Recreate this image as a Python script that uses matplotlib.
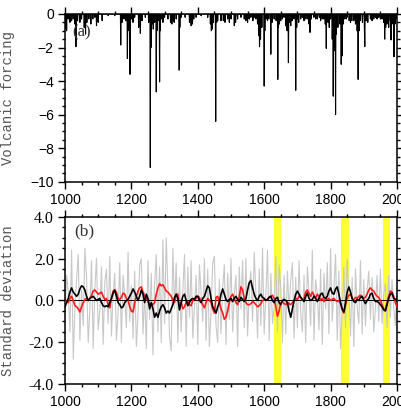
import numpy as np
import matplotlib
matplotlib.use('Agg')
import matplotlib.pyplot as plt
from matplotlib.ticker import MultipleLocator, FormatStrFormatter

# ---- (a) volcanic forcing: eruption years and peak forcing (W/m2)
erupt_year = [1003, 1005, 1010, 1015, 1020, 1025, 1030, 1033, 1038, 1045, 1050, 1058, 1062, 1066,
              1072, 1078, 1084, 1090, 1095, 1100, 1112, 1130, 1150, 1168, 1172, 1178, 1183, 1188,
              1190, 1196, 1200, 1205, 1210, 1222, 1227, 1232, 1242, 1252, 1257, 1259, 1262, 1266,
              1270, 1275, 1277, 1280, 1285, 1287, 1290, 1295, 1300, 1310, 1318, 1322, 1326, 1329,
              1335, 1344, 1346, 1350, 1362, 1375, 1380, 1384, 1388, 1395, 1410, 1430, 1438, 1441,
              1444, 1447, 1454, 1457, 1460, 1470, 1477, 1482, 1490, 1495, 1500, 1510, 1514, 1520,
              1530, 1540, 1545, 1550, 1555, 1560, 1566, 1570, 1575, 1580, 1584, 1586, 1589, 1593,
              1600, 1602, 1606, 1610, 1614, 1620, 1624, 1630, 1636, 1641, 1643, 1646, 1650, 1655,
              1660, 1665, 1669, 1673, 1676, 1680, 1684, 1690, 1695, 1698, 1700, 1704, 1710, 1715,
              1720, 1725, 1730, 1735, 1738, 1742, 1750, 1755, 1760, 1766, 1770, 1775, 1780, 1784,
              1787, 1792, 1796, 1800, 1805, 1808, 1810, 1813, 1815, 1817, 1822, 1828, 1832, 1835,
              1838, 1842, 1847, 1850, 1856, 1860, 1864, 1870, 1875, 1880, 1883, 1886, 1890, 1896,
              1902, 1903, 1907, 1912, 1920, 1925, 1930, 1935, 1940, 1945, 1950, 1955, 1960, 1963,
              1966, 1970, 1975, 1980, 1982, 1985, 1988, 1991, 1994, 1998]
erupt_val = [-0.9, -1.0, -0.3, -0.5, -0.4, -0.3, -0.6, -1.95, -0.4, -0.5, -0.3, -0.8, -1.2, -0.5,
             -0.3, -0.6, -0.3, -0.2, -0.7, -0.5, -0.4, -0.1, -0.1, -1.85, -0.5, -0.3, -0.4, -2.65,
             -1.0, -3.6, -0.3, -0.5, -0.2, -0.8, -1.15, -0.4, -0.2, -0.5, -9.15, -2.0, -0.6, -0.9,
             -0.5, -4.65, -1.0, -0.4, -4.05, -1.0, -0.3, -0.5, -0.2, -0.3, -0.5, -0.6, -0.4, -0.5,
             -0.3, -3.35, -0.8, -0.2, -0.2, -0.5, -0.7, -0.6, -0.3, -0.2, -0.1, -0.2, -0.6, -1.0,
             -0.9, -0.5, -6.4, -0.5, -0.4, -0.4, -0.4, -0.5, -0.3, -0.5, -0.3, -0.7, -0.5, -0.3,
             -0.2, -0.3, -0.4, -0.5, -0.3, -0.2, -0.4, -0.2, -0.3, -0.6, -1.3, -1.95, -1.5, -0.8,
             -4.3, -1.0, -0.3, -0.4, -0.3, -2.4, -0.5, -0.3, -0.4, -3.9, -0.8, -0.6, -0.4, -0.3,
             -0.2, -0.7, -1.0, -2.9, -0.5, -0.7, -0.4, -0.3, -4.55, -0.8, -0.3, -0.5, -0.3, -0.2,
             -0.4, -0.3, -0.3, -0.6, -1.1, -0.3, -0.2, -0.3, -0.3, -0.2, -0.4, -0.3, -0.3, -0.6,
             -2.05, -0.5, -0.8, -0.3, -1.5, -4.9, -2.2, -1.5, -6.0, -1.2, -0.8, -0.6, -3.0, -2.5,
             -0.6, -0.3, -0.3, -0.2, -0.4, -0.5, -0.4, -0.4, -0.6, -1.0, -3.9, -1.0, -0.4, -0.5,
             -1.0, -1.95, -0.4, -0.5, -0.3, -0.4, -0.3, -0.2, -0.3, -0.2, -0.3, -0.3, -0.5, -1.5,
             -0.8, -0.6, -0.8, -0.4, -1.55, -0.6, -0.4, -2.55, -0.6, -0.3]

# ---- (b) standardized series, one value every 5 years (1000..2000)
std_years = list(range(1000, 2001, 5))
gray_vals = [-0.8, 1.2, 0.4, -1.5, 2.4, -2.8, -0.3, 1.0, 2.2, -1.9, 0.5, -1.2, 2.5, 1.1, -2.0, -0.4, 1.9, -2.3, 0.6, 2.0,
             -1.4, -0.5, 1.6, -2.1, 0.9, 1.5, -1.1, 2.1, -1.7, 0.3, 1.3, -1.9, -0.6, 1.8, -2.0, 1.2, 0.2, -1.3, 2.3, -1.0,
             0.7, -1.8, 1.4, -2.2, -0.7, 1.7, 2.0, -1.6, 0.4, -2.3, 1.9, -0.9, 1.3, -2.6, 0.8, 2.2, -1.5, 1.6, -2.0, 2.9,
             -1.1, 3.0, 0.6, -1.7, -2.4, 2.5, -0.4, 1.8, -2.0, 1.1, -1.5, 0.5, 2.2, -2.2, 1.6, -0.8, 1.9, -1.8, -0.3, 1.2,
             -2.1, 1.7, 0.4, -1.0, 2.0, -1.9, 1.5, -2.2, -0.5, 1.8, 2.1, -1.2, -2.0, 1.0, -1.6, 0.6, 1.7, -2.1, 1.3, -0.9,
             2.0, -1.5, 0.3, 1.2, -2.2, 1.6, -0.4, 1.9, -1.3, 2.0, -1.7, 0.5, 1.4, -1.0, 2.3, 0.4, -1.8, 1.5, -1.2, 2.5,
             -1.6, 0.2, 2.4, -1.9, 1.3, -1.1, -0.3, 2.1, -1.5, 1.7, 0.6, -2.0, 1.2, -1.6, 1.4, -0.5, 1.0, 1.8, -1.8, 1.1,
             -1.3, 1.9, -0.6, -1.5, 1.2, -2.0, 1.6, 0.4, -1.2, 2.4, -1.9, 1.0, 0.3, -1.4, 1.5, -2.1, 1.3, -0.4, 1.8, -1.6,
             2.5, -1.0, 0.5, 2.2, -1.9, 1.4, -2.3, -0.6, 1.6, -1.3, 2.0, 0.4, -1.7, 1.1, -2.2, 1.5, -0.3, -1.1, 1.9, -1.6,
             1.0, -1.2, 0.5, 1.4, -0.9, 1.1, -1.5, -0.4, 1.2, -1.0, 1.5, -1.1, 0.3, 0.8, -1.3, 1.2, -0.8, 1.0, -0.3, -1.2,
             0.6]
red_vals = [-0.1, 0.0, -0.1, 0.1, 0.2, 0.0, -0.25, -0.3, -0.4, -0.55, -0.3, -0.1, 0.05, 0.1, 0.0, 0.1, 0.25, 0.45, 0.5, 0.4,
            0.3, 0.35, 0.4, 0.2, 0.05, 0.1, -0.2, -0.35, 0.1, 0.45, 0.5, 0.4, 0.1, 0.05, 0.15, 0.35, 0.3, 0.1, 0.0, -0.3,
            -0.5, -0.55, -0.1, 0.2, 0.45, 0.6, 0.65, 0.4, 0.2, 0.15, -0.05, -0.2, -0.15, -0.2, -0.1, 0.3, 0.6, 0.8, 0.7, 0.75,
            0.6, 0.45, 0.4, 0.3, 0.2, 0.0, -0.1, 0.3, 0.3, -0.3, -0.1, -0.4, -0.3, -0.1, -0.05, -0.2, -0.25, 0.0, 0.05, 0.1,
            0.2, 0.15, -0.05, -0.2, -0.35, -0.1, 0.1, 0.0, -0.1, -0.4, -0.6, 0.15, 0.2, -0.1, -0.4, -0.6, -0.9, -0.8, -0.5, -0.1,
            0.2, 0.3, 0.1, -0.1, -0.2, 0.2, 0.65, 0.5, 0.1, -0.1, -0.2, -0.2, -0.15, -0.05, -0.1, -0.2, -0.3, -0.25, -0.15, 0.0,
            0.05, 0.0, 0.05, 0.15, 0.2, 0.25, 0.1, -0.3, -0.75, -0.5, -0.1, -0.05, -0.15, -0.2, -0.1, -0.15, -0.2, -0.1, 0.0, 0.1,
            0.05, 0.2, 0.15, 0.0, 0.1, 0.4, 0.5, 0.35, 0.2, 0.4, 0.25, 0.1, 0.3, 0.2, 0.0, 0.1, -0.05, 0.1, 0.05, 0.1,
            0.0, 0.05, 0.1, 0.0, -0.05, 0.0, -0.15, -0.45, -0.6, -0.2, 0.1, 0.25, 0.3, 0.1, 0.0, 0.15, 0.1, 0.2, 0.25, 0.15,
            0.1, 0.15, 0.3, 0.5, 0.6, 0.5, 0.45, 0.3, 0.2, 0.15, 0.0, -0.2, -0.4, -0.45, -0.1, 0.2, 0.45, 0.4, 0.2, -0.1,
            -0.3]
black_vals = [-0.3, -0.1, 0.1, 0.4, 0.6, 0.4, 0.3, 0.2, 0.3, 0.55, 0.7, 0.65, 0.5, 0.2, 0.0, 0.1, 0.15, 0.2, 0.1, 0.0,
              0.05, 0.1, -0.1, -0.25, -0.3, -0.25, -0.3, -0.1, 0.1, 0.35, 0.5, 0.2, -0.1, -0.2, -0.35, -0.3, -0.1, 0.0, 0.05, 0.2,
              0.35, 0.55, 0.4, 0.2, 0.0, 0.2, 0.5, 0.3, -0.1, 0.3, 0.1, -0.4, -0.1, -0.4, -0.8, -0.6, -0.8, -0.5, -0.3, -0.2,
              -0.35, -0.6, -0.5, -0.6, -0.4, -0.2, 0.15, 0.3, 0.1, -0.45, -0.1, 0.2, 0.3, 0.0, -0.25, -0.1, 0.05, 0.1, 0.05, 0.2,
              0.2, 0.0, -0.1, 0.1, 0.2, 0.45, 0.7, 0.6, 0.1, -0.3, -0.45, -0.6, -0.3, -0.1, 0.3, 0.55, 0.3, 0.05, -0.05, 0.05,
              0.1, -0.05, 0.1, 0.2, 0.05, -0.05, 0.15, 0.05, -0.05, 0.1, 0.5, 0.85, 0.95, 0.6, 0.3, 0.1, 0.0, 0.2, 0.3, 0.15,
              0.1, 0.0, 0.05, 0.15, 0.2, 0.0, -0.1, 0.1, 0.15, -0.1, -0.2, 0.0, 0.05, 0.0, -0.1, -0.5, -0.8, -0.4, 0.0, 0.3,
              0.45, 0.3, 0.15, 0.05, -0.05, 0.2, 0.35, 0.1, 0.0, 0.05, 0.2, 0.1, -0.05, 0.1, 0.3, 0.35, 0.15, 0.1, 0.2, 0.45,
              0.6, 0.35, 0.3, 0.55, 0.65, 0.3, -0.1, -0.4, -0.55, -0.1, 0.4, 0.65, 0.4, 0.1, -0.05, -0.1, 0.05, 0.0, 0.15, 0.2,
              0.0, -0.15, 0.0, 0.1, 0.3, 0.35, 0.1, -0.05, -0.05, -0.1, -0.2, -0.3, -0.45, -0.5, -0.2, 0.1, 0.3, 0.35, 0.1, 0.05,
              0.1]

# shaded periods
band_start = [1631, 1830, 1958]
band_end = [1651, 1855, 1980]

years = np.arange(1000, 2001)
forcing = np.zeros(len(years))
forcing[np.array(erupt_year) - 1000] = erupt_val

sans = 'Liberation Sans'
serif = 'Liberation Serif'
mono = 'Liberation Mono'

fig = plt.figure(figsize=(4.01, 4.08), dpi=100)
ax1 = fig.add_axes([0.162, 0.5547, 0.828, 0.411])
ax2 = fig.add_axes([0.162, 0.0581, 0.828, 0.4108])

def style_axis(ax):
    for s in ax.spines.values():
        s.set_linewidth(1.1)
    ax.tick_params(which='both', direction='out', top=True, right=True, width=1.0)
    ax.tick_params(which='major', length=5, pad=3)
    ax.tick_params(which='minor', length=2.5)
    ax.set_xlim(1000, 2000)
    ax.xaxis.set_major_locator(MultipleLocator(200))
    ax.xaxis.set_minor_locator(MultipleLocator(50))
    for lab in ax.get_xticklabels():
        lab.set_fontfamily(sans); lab.set_fontsize(10)

# (a)
ax1.plot(years, forcing, color='black', lw=0.8)
ax1.set_ylim(-10, 0)
ax1.yaxis.set_major_locator(MultipleLocator(2))
ax1.yaxis.set_minor_locator(MultipleLocator(0.5))
style_axis(ax1)
for lab in ax1.get_yticklabels():
    lab.set_fontfamily(sans); lab.set_fontsize(10)
ax1.set_ylabel('Volcanic forcing', family=mono, fontsize=10, color='#555555')
ax1.yaxis.set_label_coords(-0.15, 0.5)
ax1.text(0.051, 0.893, '(a)', transform=ax1.transAxes, family=serif, fontsize=12,
         ha='center', va='center', color='#333333')

# (b)
for b0, b1 in zip(band_start, band_end):
    ax2.axvspan(b0, b1, color='#ffff33', lw=0, zorder=0)
ax2.plot(std_years, gray_vals, color='#c8c8c8', lw=0.8, zorder=1)
ax2.axhline(0, color='black', lw=0.7, zorder=2)
ax2.plot(std_years, red_vals, color='#ff1a1a', lw=1.2, zorder=3)
ax2.plot(std_years, black_vals, color='black', lw=1.2, zorder=4)
ax2.set_ylim(-4, 4)
ax2.yaxis.set_major_locator(MultipleLocator(2))
ax2.yaxis.set_minor_locator(MultipleLocator(0.5))
ax2.yaxis.set_major_formatter(FormatStrFormatter('%.1f'))
style_axis(ax2)
for lab in ax2.get_yticklabels():
    lab.set_fontfamily(serif); lab.set_fontsize(11.5)
ax2.set_ylabel('Standard deviation', family=mono, fontsize=10, color='#555555')
ax2.yaxis.set_label_coords(-0.15, 0.5)
ax2.text(0.057, 0.915, '(b)', transform=ax2.transAxes, family=serif, fontsize=12.5,
         ha='center', va='center', color='#333333')

fig.savefig('out.png', dpi=100)
